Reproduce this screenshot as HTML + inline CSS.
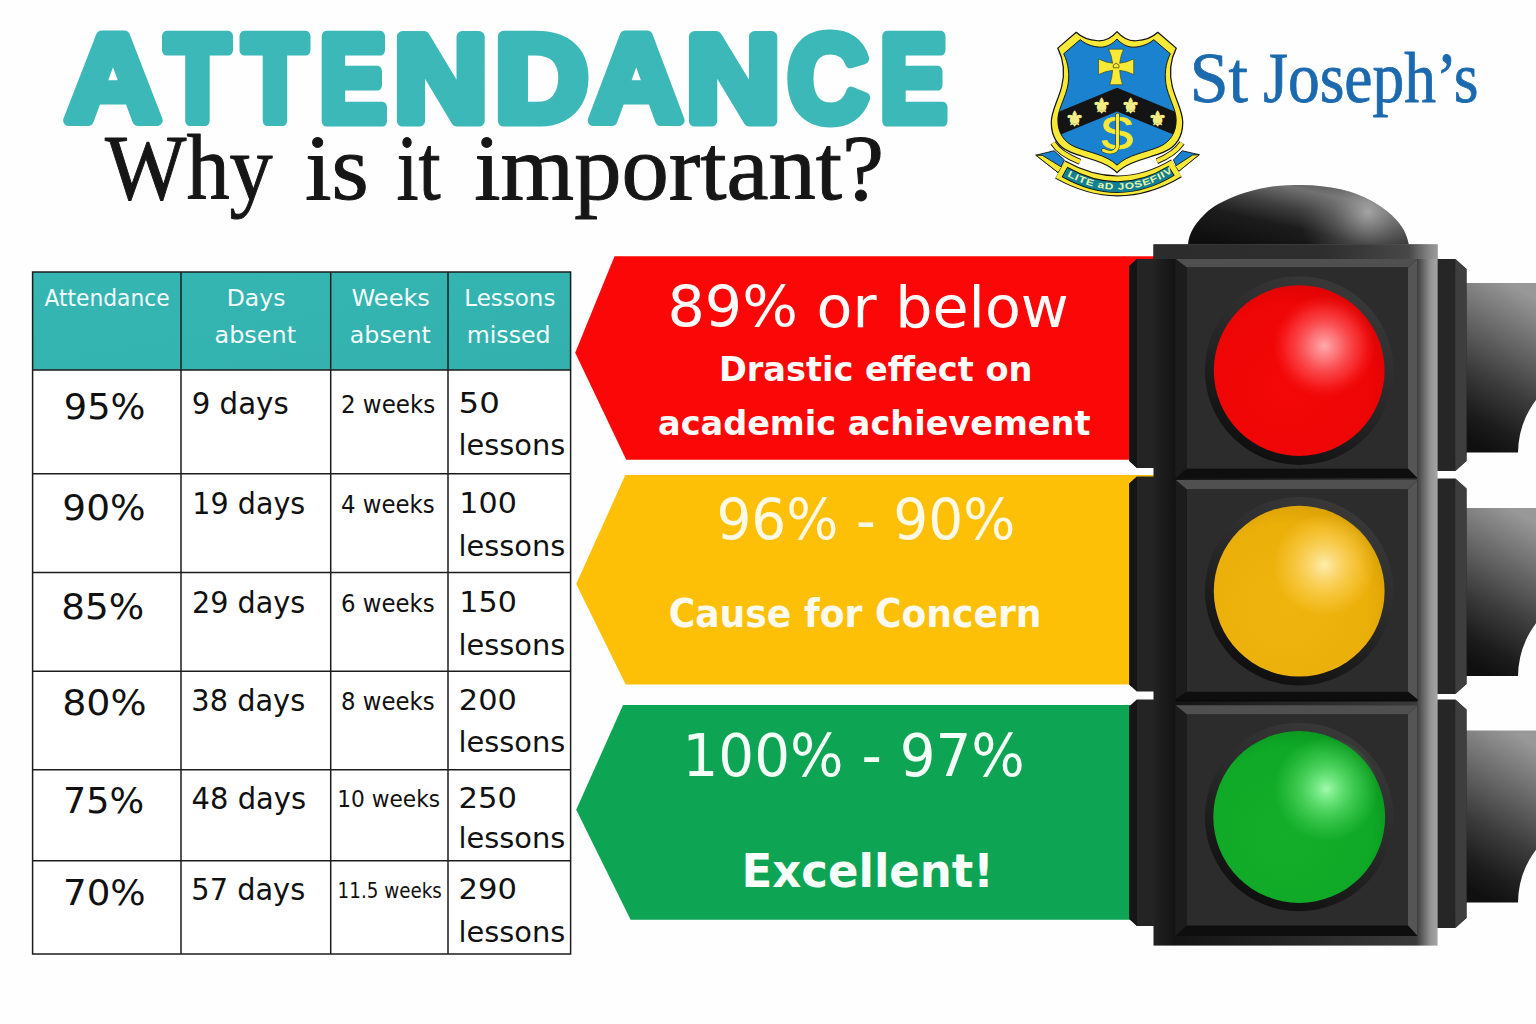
<!DOCTYPE html>
<html lang="en">
<head>
<meta charset="utf-8">
<title>Attendance - Why is it important?</title>
<style>
html,body{margin:0;padding:0;background:#fefefe;}
body{width:1536px;height:1024px;overflow:hidden;font-family:"Liberation Sans","DejaVu Sans",sans-serif;}
svg{display:block;}
text{white-space:pre;}
</style>
</head>
<body>
<svg width="1536" height="1024" viewBox="0 0 1536 1024">
<rect width="1536" height="1024" fill="#fefefe"/>
<defs>
  <radialGradient id="gRed" cx="0.42" cy="0.6" r="0.62">
    <stop offset="0" stop-color="#f40808"/>
    <stop offset="0.8" stop-color="#ee0505"/>
    <stop offset="1" stop-color="#df0303"/>
  </radialGradient>
  <radialGradient id="hRed" cx="0.5" cy="0.5" r="0.5">
    <stop offset="0" stop-color="#ffb4b6" stop-opacity="0.95"/>
    <stop offset="0.3" stop-color="#ff8a8e" stop-opacity="0.8"/>
    <stop offset="0.7" stop-color="#ff5256" stop-opacity="0.48"/>
    <stop offset="0.9" stop-color="#ff3a3e" stop-opacity="0.16"/>
    <stop offset="1" stop-color="#ff3a3e" stop-opacity="0"/>
  </radialGradient>
  <radialGradient id="gYel" cx="0.42" cy="0.6" r="0.62">
    <stop offset="0" stop-color="#efb50e"/>
    <stop offset="0.8" stop-color="#ebaf0a"/>
    <stop offset="1" stop-color="#dba205"/>
  </radialGradient>
  <radialGradient id="hYel" cx="0.5" cy="0.5" r="0.5">
    <stop offset="0" stop-color="#fff0b8" stop-opacity="0.95"/>
    <stop offset="0.3" stop-color="#ffe28a" stop-opacity="0.75"/>
    <stop offset="0.7" stop-color="#ffd45a" stop-opacity="0.42"/>
    <stop offset="0.9" stop-color="#ffd050" stop-opacity="0.16"/>
    <stop offset="1" stop-color="#ffd050" stop-opacity="0"/>
  </radialGradient>
  <radialGradient id="gGrn" cx="0.42" cy="0.6" r="0.62">
    <stop offset="0" stop-color="#14ae2b"/>
    <stop offset="0.8" stop-color="#10a927"/>
    <stop offset="1" stop-color="#0a9a1f"/>
  </radialGradient>
  <radialGradient id="hGrn" cx="0.5" cy="0.5" r="0.5">
    <stop offset="0" stop-color="#a8ffb4" stop-opacity="0.95"/>
    <stop offset="0.3" stop-color="#7cf08a" stop-opacity="0.75"/>
    <stop offset="0.7" stop-color="#52d962" stop-opacity="0.42"/>
    <stop offset="0.9" stop-color="#48d058" stop-opacity="0.16"/>
    <stop offset="1" stop-color="#48d058" stop-opacity="0"/>
  </radialGradient>
  <linearGradient id="gRing" x1="0.75" y1="0" x2="0.25" y2="1">
    <stop offset="0" stop-color="#3a3a3a"/>
    <stop offset="0.45" stop-color="#2a2a2a"/>
    <stop offset="1" stop-color="#0d0d0d"/>
  </linearGradient>
  <linearGradient id="gBody" x1="0" y1="0" x2="1" y2="0">
    <stop offset="0" stop-color="#232323"/>
    <stop offset="0.035" stop-color="#1b1b1b"/>
    <stop offset="0.075" stop-color="#141414"/>
    <stop offset="0.925" stop-color="#3a3a3a"/>
    <stop offset="0.94" stop-color="#545454"/>
    <stop offset="0.975" stop-color="#929292"/>
    <stop offset="1" stop-color="#a6a6a6"/>
  </linearGradient>
  <linearGradient id="gTop" x1="0" y1="0" x2="1" y2="0">
    <stop offset="0" stop-color="#2c2c2c"/>
    <stop offset="0.6" stop-color="#2e2e2e"/>
    <stop offset="0.9" stop-color="#484848"/>
    <stop offset="0.975" stop-color="#8a8a8a"/>
    <stop offset="1" stop-color="#9a9a9a"/>
  </linearGradient>
  <linearGradient id="gDome" x1="0.1" y1="0.95" x2="0.85" y2="0.05">
    <stop offset="0" stop-color="#0e0e0e"/>
    <stop offset="0.36" stop-color="#1c1c1c"/>
    <stop offset="0.58" stop-color="#404040"/>
    <stop offset="0.8" stop-color="#727272"/>
    <stop offset="1" stop-color="#4a4a4a"/>
  </linearGradient>
  <radialGradient id="hDome" gradientUnits="userSpaceOnUse" cx="1368" cy="212" r="70">
    <stop offset="0" stop-color="#acacac" stop-opacity="0.9"/>
    <stop offset="0.5" stop-color="#808080" stop-opacity="0.4"/>
    <stop offset="1" stop-color="#606060" stop-opacity="0"/>
  </radialGradient>
  <linearGradient id="gVisor" x1="0.62" y1="0" x2="0.38" y2="1">
    <stop offset="0" stop-color="#989898"/>
    <stop offset="0.3" stop-color="#6a6a6a"/>
    <stop offset="0.6" stop-color="#3c3c3c"/>
    <stop offset="0.85" stop-color="#1c1c1c"/>
    <stop offset="1" stop-color="#101010"/>
  </linearGradient>
  <linearGradient id="gHead" x1="0" y1="0" x2="1" y2="1">
    <stop offset="0" stop-color="#36b6b3"/>
    <stop offset="1" stop-color="#32b1ad"/>
  </linearGradient>
</defs>

<g id="table">
  <rect x="32.6" y="272" width="538" height="682" fill="#ffffff"/>
  <rect x="32.6" y="272" width="538" height="98" fill="url(#gHead)"/>
  <g stroke="#1c1c1c" stroke-width="1.5" fill="none" shape-rendering="geometricPrecision">
    <rect x="32.6" y="272" width="538" height="682"/>
    <path d="M181 272V954M330.7 272V954M448 272V954"/>
    <path d="M32.6 370H570.6M32.6 473.8H570.6M32.6 572.4H570.6M32.6 671.2H570.6M32.6 769.8H570.6M32.6 860.7H570.6"/>
  </g>
</g>

<g id="arrows">
  <polygon points="614.5,256.3 1154,256.3 1154,459.8 626.2,459.8 575.2,352.8" fill="#fb0707"/>
  <polygon points="625.3,475.1 1154,475.1 1154,684.4 625.7,684.4 576.2,584.1" fill="#fec006"/>
  <polygon points="623,705.1 1154,705.1 1154,919.8 630.6,919.8 576.2,809.8" fill="#0da553"/>
</g>

<g id="light">
  <g><path d="M1466,283.1 H1537 V398.6 A90,90 0 0 0 1518,452.6 H1466 Z" fill="url(#gVisor)"/><path d="M1466,508 H1537 V622.0 A90,90 0 0 0 1518,676 H1466 Z" fill="url(#gVisor)"/><path d="M1466,730.5 H1537 V848.4 A90,90 0 0 0 1518,902.4 H1466 Z" fill="url(#gVisor)"/></g>
  <path d="M1188,244.6 C1189,233 1195,224 1203,216 C1210,208 1219,203 1229,198.7 C1243,192.5 1257,189 1272,186.6 C1282,185.2 1292,184.9 1302,184.9 C1315,184.9 1328,186.5 1340.6,189.2 C1353,192 1365,197 1375,203 C1384,208 1391,214 1396.4,220 C1403,227 1407,235 1408.8,244.6 Z" fill="url(#gDome)"/>
  <path d="M1188,244.6 C1189,233 1195,224 1203,216 C1210,208 1219,203 1229,198.7 C1243,192.5 1257,189 1272,186.6 C1282,185.2 1292,184.9 1302,184.9 C1315,184.9 1328,186.5 1340.6,189.2 C1353,192 1365,197 1375,203 C1384,208 1391,214 1396.4,220 C1403,227 1407,235 1408.8,244.6 Z" fill="url(#hDome)"/>
  <g><polygon points="1137,259 1155,259 1155,468 1137,468 1129.3,461 1129.3,266" fill="#242424"/><polygon points="1137,259 1137,468 1129.3,461 1129.3,266" fill="#151515"/><polygon points="1137,476.5 1155,476.5 1155,691.5 1137,691.5 1129.3,684.5 1129.3,483.5" fill="#242424"/><polygon points="1137,476.5 1137,691.5 1129.3,684.5 1129.3,483.5" fill="#151515"/><polygon points="1137,699.6 1155,699.6 1155,926 1137,926 1129.3,919 1129.3,706.6" fill="#242424"/><polygon points="1137,699.6 1137,926 1129.3,919 1129.3,706.6" fill="#151515"/></g>
  <g><polygon points="1436,259 1455.3,259 1466.5,269 1466.5,461 1455.3,471 1436,471" fill="#262626"/><polygon points="1455.3,259 1466.5,269 1466.5,461 1455.3,471" fill="#3e3e3e"/><polygon points="1436,478.5 1455.3,478.5 1466.5,488.5 1466.5,684 1455.3,694 1436,694" fill="#262626"/><polygon points="1455.3,478.5 1466.5,488.5 1466.5,684 1455.3,694" fill="#3e3e3e"/><polygon points="1436,699.6 1455.3,699.6 1466.5,709.6 1466.5,918 1455.3,928 1436,928" fill="#262626"/><polygon points="1455.3,699.6 1466.5,709.6 1466.5,918 1455.3,928" fill="#3e3e3e"/></g>
  <rect x="1153.5" y="244.4" width="284.1" height="701.2" fill="url(#gBody)"/>
  <rect x="1153.5" y="244.4" width="284.1" height="14.6" fill="url(#gTop)"/>
  <g>
    <rect x="1175.5" y="259" width="242" height="219.2" fill="#1b1b1b"/>
    <polygon points="1175.5,259 1417.5,259 1408,267.4 1186.8,267.4" fill="#505050"/>
    <polygon points="1175.5,259 1186.8,267.4 1186.8,468.6 1175.5,478.2" fill="#1c1c1c"/>
    <polygon points="1417.5,259 1417.5,478.2 1408,468.6 1408,267.4" fill="#555555"/>
    <polygon points="1175.5,478.2 1186.8,468.6 1408,468.6 1417.5,478.2" fill="#0e0e0e"/>
    <rect x="1186.8" y="267.4" width="221.2" height="201.20000000000005" fill="#2c2c2c"/>
    <rect x="1175.5" y="480" width="242" height="221.5" fill="#0a0a0a"/>
    <polygon points="1175.5,480 1417.5,480 1408,489.6 1186.8,489.6" fill="#505050"/>
    <polygon points="1175.5,480 1186.8,489.6 1186.8,691.8 1175.5,699.6" fill="#1c1c1c"/>
    <polygon points="1417.5,480 1417.5,699.6 1408,691.8 1408,489.6" fill="#555555"/>
    <polygon points="1175.5,699.6 1186.8,691.8 1408,691.8 1417.5,699.6" fill="#0e0e0e"/>
    <rect x="1186.8" y="489.6" width="221.2" height="202.19999999999993" fill="#2c2c2c"/>
    <rect x="1175.5" y="705.2" width="242" height="230.79999999999995" fill="#1b1b1b"/>
    <polygon points="1175.5,705.2 1417.5,705.2 1408,714.6 1186.8,714.6" fill="#505050"/>
    <polygon points="1175.5,705.2 1186.8,714.6 1186.8,925.4 1175.5,936" fill="#1c1c1c"/>
    <polygon points="1417.5,705.2 1417.5,936 1408,925.4 1408,714.6" fill="#555555"/>
    <polygon points="1175.5,936 1186.8,925.4 1408,925.4 1417.5,936" fill="#0e0e0e"/>
    <rect x="1186.8" y="714.6" width="221.2" height="210.79999999999995" fill="#2c2c2c"/>
  </g>
  <circle cx="1299.2" cy="370.6" r="94.3" fill="url(#gRing)"/>
  <circle cx="1299.2" cy="370.6" r="85.4" fill="url(#gRed)"/>
  <circle cx="1324.3" cy="346" r="51" fill="url(#hRed)"/>
  <circle cx="1299.2" cy="591.2" r="94.3" fill="url(#gRing)"/>
  <circle cx="1299.2" cy="591.2" r="85.4" fill="url(#gYel)"/>
  <circle cx="1324.3" cy="565" r="51" fill="url(#hYel)"/>
  <circle cx="1299.2" cy="817" r="94.3" fill="url(#gRing)"/>
  <circle cx="1299.2" cy="817" r="85.9" fill="url(#gGrn)"/>
  <circle cx="1326.4" cy="789" r="52" fill="url(#hGrn)"/>
</g>

<g id="crest" transform="translate(1030,20) scale(0.17578)">
  <defs>
    <clipPath id="clipShield"><path d="M495.0,66.0 C520.0,95.0 560.0,120.0 603.0,118.0 C650.0,116.0 700.0,96.0 727.0,70.0 L832.0,160.0 C802.0,220.0 790.0,300.0 810.0,380.0 C835.0,470.0 869.0,520.0 869.0,582.0 C869.0,660.0 832.0,722.0 760.0,752.0 C680.0,786.0 560.0,802.0 495.0,868.0 C430.0,802.0 310.0,786.0 230.0,752.0 C158.0,722.0 121.0,660.0 121.0,582.0 C121.0,520.0 155.0,470.0 180.0,380.0 C200.0,300.0 188.0,220.0 158.0,160.0 L263.0,70.0 C290.0,96.0 340.0,116.0 387.0,118.0 C430.0,120.0 470.0,95.0 495.0,66.0 Z" transform="translate(495.0,466) scale(0.9,0.895) translate(-495.0,-466)"/></clipPath>
    <path id="bannerArc" d="M172,851 Q507,1040 833,844"/>
    <path id="bannerText" d="M205,884 Q507,1052 800,874"/>
  </defs>
  <!-- ribbon tails -->
  <g stroke="#111" stroke-width="5" stroke-linejoin="round">
    <polygon points="33,769 137,744 196,796 160,868" fill="#1a82cf"/>
    <polygon points="33,769 160,868 181,838 70,770" fill="#f7e936"/>
    <polygon points="963,766 866,744 816,796 847,860" fill="#1a82cf"/>
    <polygon points="963,766 847,860 826,832 925,768" fill="#f7e936"/>
  </g>
  <!-- folds -->
  <g fill="none" stroke-linecap="butt">
    <path d="M131,699 Q170,762 284,806" stroke="#111" stroke-width="34"/>
    <path d="M131,699 Q170,762 284,806" stroke="#f7e936" stroke-width="24"/>
    <path d="M865,699 Q822,762 722,803" stroke="#111" stroke-width="34"/>
    <path d="M865,699 Q822,762 722,803" stroke="#f7e936" stroke-width="24"/>
  </g>
  <!-- banner band -->
  <use href="#bannerArc" fill="none" stroke="#111" stroke-width="118"/>
  <use href="#bannerArc" fill="none" stroke="#f7e936" stroke-width="106"/>
  <path d="M196,864 Q507,1040 806,857" fill="none" stroke="#111" stroke-width="66"/>
  <path d="M200,866 Q507,1040 802,859" fill="none" stroke="#117f94" stroke-width="56"/>
  <text font-family='"Liberation Sans", "DejaVu Sans", sans-serif' font-weight="700" font-size="52" fill="#e9f7a8" letter-spacing="3"><textPath href="#bannerText" startOffset="1%" textLength="640" lengthAdjust="spacingAndGlyphs">LITE aD JOSEFIIV</textPath></text>
  <!-- shield -->
  <path d="M495.0,66.0 C520.0,95.0 560.0,120.0 603.0,118.0 C650.0,116.0 700.0,96.0 727.0,70.0 L832.0,160.0 C802.0,220.0 790.0,300.0 810.0,380.0 C835.0,470.0 869.0,520.0 869.0,582.0 C869.0,660.0 832.0,722.0 760.0,752.0 C680.0,786.0 560.0,802.0 495.0,868.0 C430.0,802.0 310.0,786.0 230.0,752.0 C158.0,722.0 121.0,660.0 121.0,582.0 C121.0,520.0 155.0,470.0 180.0,380.0 C200.0,300.0 188.0,220.0 158.0,160.0 L263.0,70.0 C290.0,96.0 340.0,116.0 387.0,118.0 C430.0,120.0 470.0,95.0 495.0,66.0 Z" fill="#f7e936" stroke="#111" stroke-width="7" stroke-linejoin="round"/>
  <path d="M495.0,66.0 C520.0,95.0 560.0,120.0 603.0,118.0 C650.0,116.0 700.0,96.0 727.0,70.0 L832.0,160.0 C802.0,220.0 790.0,300.0 810.0,380.0 C835.0,470.0 869.0,520.0 869.0,582.0 C869.0,660.0 832.0,722.0 760.0,752.0 C680.0,786.0 560.0,802.0 495.0,868.0 C430.0,802.0 310.0,786.0 230.0,752.0 C158.0,722.0 121.0,660.0 121.0,582.0 C121.0,520.0 155.0,470.0 180.0,380.0 C200.0,300.0 188.0,220.0 158.0,160.0 L263.0,70.0 C290.0,96.0 340.0,116.0 387.0,118.0 C430.0,120.0 470.0,95.0 495.0,66.0 Z" transform="translate(495.0,466) scale(0.9,0.895) translate(-495.0,-466)" fill="#1a82cf" stroke="#111" stroke-width="6" stroke-linejoin="round"/>
  <g clip-path="url(#clipShield)">
    <polygon points="0,589 495.0,385 990,589 990,722 495.0,520 0,722" fill="#141414"/>
  </g>
  <!-- cross -->
  <path d="M470,246 Q466,206.0 448,166 L532,166 Q514,206.0 510,246 Q550.0,242 590,222 L590,310 Q550.0,290 510,286 Q512,327.2 526,368 L454,368 Q468,327.2 470,286 Q430.0,290 390,310 L390,222 Q430.0,242 470,246 Z" fill="#f7e936" stroke="#2a2a10" stroke-width="3"/>
  <path d="M474,272 L474,256 L490,246 L506,256 L506,272 Z" fill="#f7e936" stroke="#3a3a10" stroke-width="4"/>
  <!-- fleurs-de-lis -->
  <g font-family='"DejaVu Sans", sans-serif' font-size="118" fill="#f4ee86" text-anchor="middle" stroke="#f4ee86" stroke-width="5" stroke-linejoin="round">
    <text x="253" y="602">⚜</text>
    <text x="407" y="530">⚜</text>
    <text x="572" y="530">⚜</text>
    <text x="725" y="602">⚜</text>
  </g>
  <!-- SJ monogram -->
  <text x="497" y="733" text-anchor="middle" font-family='"Liberation Sans", "DejaVu Sans", sans-serif' font-size="258" fill="#f7e936" stroke="#f7e936" stroke-width="4" stroke-linejoin="round" transform="translate(497,0) scale(1.16,1) translate(-497,0)">S</text>
  <path d="M498,540 V712 C498,748 462,764 418,742" fill="none" stroke="#2a2a10" stroke-width="24" stroke-linecap="round"/>
  <path d="M498,540 V712 C498,748 462,764 418,742" fill="none" stroke="#f7e936" stroke-width="18" stroke-linecap="round"/>
</g>

<g id="texts">
<text y="121.00" font-family='"Liberation Sans", "DejaVu Sans", sans-serif' font-weight="700" font-size="123.19" fill="#3bb8b7" stroke="#3bb8b7" stroke-width="11.0" stroke-linejoin="round" paint-order="stroke"><tspan x="65.88" textLength="94.52" lengthAdjust="spacingAndGlyphs">A</tspan><tspan x="165.45" textLength="63.96" lengthAdjust="spacingAndGlyphs">T</tspan><tspan x="242.95" textLength="63.96" lengthAdjust="spacingAndGlyphs">T</tspan><tspan x="319.58" textLength="66.94" lengthAdjust="spacingAndGlyphs">E</tspan><tspan x="394.07" textLength="93.64" lengthAdjust="spacingAndGlyphs">N</tspan><tspan x="495.11" textLength="93.18" lengthAdjust="spacingAndGlyphs">D</tspan><tspan x="590.35" textLength="91.97" lengthAdjust="spacingAndGlyphs">A</tspan><tspan x="686.02" textLength="94.25" lengthAdjust="spacingAndGlyphs">N</tspan><tspan x="787.64" textLength="80.49" lengthAdjust="spacingAndGlyphs">C</tspan><tspan x="879.98" textLength="66.94" lengthAdjust="spacingAndGlyphs">E</tspan></text>
<text y="198.80" font-family='"Liberation Serif", "DejaVu Serif", serif' font-weight="400" font-size="93.53" fill="#161616" stroke="#161616" stroke-width="1.0" stroke-linejoin="round"><tspan x="105.10" textLength="167.60" lengthAdjust="spacingAndGlyphs">Why</tspan> <tspan x="304.99" textLength="63.78" lengthAdjust="spacingAndGlyphs">is</tspan> <tspan x="396.41" textLength="44.22" lengthAdjust="spacingAndGlyphs">it</tspan> <tspan x="474.31" textLength="409.77" lengthAdjust="spacingAndGlyphs">important?</tspan></text>
<text y="101.90" font-family='"Liberation Serif", "DejaVu Serif", serif' font-weight="400" font-size="71.52" fill="#1b69ae" stroke="#1b69ae" stroke-width="0.8"><tspan x="1189.66" textLength="58.24" lengthAdjust="spacingAndGlyphs">St</tspan> <tspan x="1263.23" textLength="215.14" lengthAdjust="spacingAndGlyphs">Joseph’s</tspan></text>
<text transform="translate(44.39,305.60) scale(0.9699,1)" font-family='"DejaVu Sans", "Liberation Sans", sans-serif' font-weight="400" font-size="22.47" fill="#f3fbfb" >Attendance</text>
<text transform="translate(226.76,305.60) scale(1.0473,1)" font-family='"DejaVu Sans", "Liberation Sans", sans-serif' font-weight="400" font-size="22.47" fill="#f3fbfb" >Days</text>
<text transform="translate(214.57,342.70) scale(1.0635,1)" font-family='"DejaVu Sans", "Liberation Sans", sans-serif' font-weight="400" font-size="22.47" fill="#f3fbfb" >absent</text>
<text transform="translate(351.48,305.60) scale(1.0706,1)" font-family='"DejaVu Sans", "Liberation Sans", sans-serif' font-weight="400" font-size="22.47" fill="#f3fbfb" >Weeks</text>
<text transform="translate(349.77,342.70) scale(1.0581,1)" font-family='"DejaVu Sans", "Liberation Sans", sans-serif' font-weight="400" font-size="22.47" fill="#f3fbfb" >absent</text>
<text transform="translate(464.32,305.60) scale(1.0236,1)" font-family='"DejaVu Sans", "Liberation Sans", sans-serif' font-weight="400" font-size="22.47" fill="#f3fbfb" >Lessons</text>
<text transform="translate(466.67,342.70) scale(1.0545,1)" font-family='"DejaVu Sans", "Liberation Sans", sans-serif' font-weight="400" font-size="22.47" fill="#f3fbfb" >missed</text>
<text transform="translate(63.79,418.70) scale(1.0589,1)" font-family='"DejaVu Sans", "Liberation Sans", sans-serif' font-weight="400" font-size="34.73" fill="#111111" >95%</text>
<text transform="translate(62.35,519.70) scale(1.0780,1)" font-family='"DejaVu Sans", "Liberation Sans", sans-serif' font-weight="400" font-size="34.73" fill="#111111" >90%</text>
<text transform="translate(61.27,618.70) scale(1.0751,1)" font-family='"DejaVu Sans", "Liberation Sans", sans-serif' font-weight="400" font-size="34.73" fill="#111111" >85%</text>
<text transform="translate(62.13,715.10) scale(1.0943,1)" font-family='"DejaVu Sans", "Liberation Sans", sans-serif' font-weight="400" font-size="34.73" fill="#111111" >80%</text>
<text transform="translate(63.08,813.20) scale(1.0511,1)" font-family='"DejaVu Sans", "Liberation Sans", sans-serif' font-weight="400" font-size="34.73" fill="#111111" >75%</text>
<text transform="translate(63.02,904.70) scale(1.0718,1)" font-family='"DejaVu Sans", "Liberation Sans", sans-serif' font-weight="400" font-size="34.73" fill="#111111" >70%</text>
<text transform="translate(191.64,413.70) scale(0.9934,1)" font-family='"DejaVu Sans", "Liberation Sans", sans-serif' font-weight="400" font-size="29.46" fill="#111111" >9 days</text>
<text transform="translate(192.30,514.10) scale(0.9702,1)" font-family='"DejaVu Sans", "Liberation Sans", sans-serif' font-weight="400" font-size="29.46" fill="#111111" >19 days</text>
<text transform="translate(191.89,613.10) scale(0.9737,1)" font-family='"DejaVu Sans", "Liberation Sans", sans-serif' font-weight="400" font-size="29.46" fill="#111111" >29 days</text>
<text transform="translate(191.34,710.70) scale(0.9785,1)" font-family='"DejaVu Sans", "Liberation Sans", sans-serif' font-weight="400" font-size="29.46" fill="#111111" >38 days</text>
<text transform="translate(191.60,808.90) scale(0.9841,1)" font-family='"DejaVu Sans", "Liberation Sans", sans-serif' font-weight="400" font-size="29.46" fill="#111111" >48 days</text>
<text transform="translate(191.34,900.00) scale(0.9785,1)" font-family='"DejaVu Sans", "Liberation Sans", sans-serif' font-weight="400" font-size="29.46" fill="#111111" >57 days</text>
<text transform="translate(340.89,412.80) scale(0.9302,1)" font-family='"DejaVu Sans", "Liberation Sans", sans-serif' font-weight="400" font-size="24.73" fill="#111111" >2 weeks</text>
<text transform="translate(340.97,513.30) scale(0.9244,1)" font-family='"DejaVu Sans", "Liberation Sans", sans-serif' font-weight="400" font-size="24.73" fill="#111111" >4 weeks</text>
<text transform="translate(341.01,612.00) scale(0.9239,1)" font-family='"DejaVu Sans", "Liberation Sans", sans-serif' font-weight="400" font-size="24.73" fill="#111111" >6 weeks</text>
<text transform="translate(341.01,709.60) scale(0.9239,1)" font-family='"DejaVu Sans", "Liberation Sans", sans-serif' font-weight="400" font-size="24.73" fill="#111111" >8 weeks</text>
<text transform="translate(337.22,806.90) scale(0.9128,1)" font-family='"DejaVu Sans", "Liberation Sans", sans-serif' font-weight="400" font-size="23.78" fill="#111111" >10 weeks</text>
<text transform="translate(337.58,898.30) scale(0.8323,1)" font-family='"DejaVu Sans", "Liberation Sans", sans-serif' font-weight="400" font-size="22.03" fill="#111111" >11.5 weeks</text>
<text transform="translate(458.57,412.80) scale(1.1324,1)" font-family='"DejaVu Sans", "Liberation Sans", sans-serif' font-weight="400" font-size="28.65" fill="#111111" >50</text>
<text transform="translate(458.40,454.80) scale(1.0083,1)" font-family='"DejaVu Sans", "Liberation Sans", sans-serif' font-weight="400" font-size="28.65" fill="#111111" >lessons</text>
<text transform="translate(459.34,513.30) scale(1.0507,1)" font-family='"DejaVu Sans", "Liberation Sans", sans-serif' font-weight="400" font-size="28.65" fill="#111111" >100</text>
<text transform="translate(458.40,556.40) scale(1.0083,1)" font-family='"DejaVu Sans", "Liberation Sans", sans-serif' font-weight="400" font-size="28.65" fill="#111111" >lessons</text>
<text transform="translate(459.34,612.00) scale(1.0507,1)" font-family='"DejaVu Sans", "Liberation Sans", sans-serif' font-weight="400" font-size="28.65" fill="#111111" >150</text>
<text transform="translate(458.40,654.90) scale(1.0083,1)" font-family='"DejaVu Sans", "Liberation Sans", sans-serif' font-weight="400" font-size="28.65" fill="#111111" >lessons</text>
<text transform="translate(458.87,709.60) scale(1.0615,1)" font-family='"DejaVu Sans", "Liberation Sans", sans-serif' font-weight="400" font-size="28.65" fill="#111111" >200</text>
<text transform="translate(458.40,752.10) scale(1.0083,1)" font-family='"DejaVu Sans", "Liberation Sans", sans-serif' font-weight="400" font-size="28.65" fill="#111111" >lessons</text>
<text transform="translate(458.46,807.80) scale(1.0693,1)" font-family='"DejaVu Sans", "Liberation Sans", sans-serif' font-weight="400" font-size="28.65" fill="#111111" >250</text>
<text transform="translate(458.40,848.30) scale(1.0083,1)" font-family='"DejaVu Sans", "Liberation Sans", sans-serif' font-weight="400" font-size="28.65" fill="#111111" >lessons</text>
<text transform="translate(458.46,899.00) scale(1.0693,1)" font-family='"DejaVu Sans", "Liberation Sans", sans-serif' font-weight="400" font-size="28.65" fill="#111111" >290</text>
<text transform="translate(458.40,941.60) scale(1.0083,1)" font-family='"DejaVu Sans", "Liberation Sans", sans-serif' font-weight="400" font-size="28.65" fill="#111111" >lessons</text>
<text transform="translate(667.49,327.20) scale(1.0340,1)" font-family='"DejaVu Sans", "Liberation Sans", sans-serif' font-weight="400" font-size="56.76" fill="#fffdfb" >89% or below</text>
<text transform="translate(718.88,381.30) scale(0.9808,1)" font-family='"DejaVu Sans", "Liberation Sans", sans-serif' font-weight="700" font-size="34.25" fill="#fffdfb" >Drastic effect on</text>
<text transform="translate(658.06,435.00) scale(0.9789,1)" font-family='"DejaVu Sans", "Liberation Sans", sans-serif' font-weight="700" font-size="34.25" fill="#fffdfb" >academic achievement</text>
<text transform="translate(716.40,540.00) scale(0.9685,1)" font-family='"DejaVu Sans", "Liberation Sans", sans-serif' font-weight="400" font-size="56.76" fill="#fff9e6" >96% - 90%</text>
<text transform="translate(668.67,626.90) scale(0.9233,1)" font-family='"DejaVu Sans", "Liberation Sans", sans-serif' font-weight="700" font-size="39.18" fill="#fffaf0" >Cause for Concern</text>
<text transform="translate(682.48,776.30) scale(0.9698,1)" font-family='"DejaVu Sans", "Liberation Sans", sans-serif' font-weight="400" font-size="58.11" fill="#f4fff8" >100% - 97%</text>
<text transform="translate(741.55,886.60) scale(0.9805,1)" font-family='"DejaVu Sans", "Liberation Sans", sans-serif' font-weight="700" font-size="45.89" fill="#f8fffa" >Excellent!</text>
</g>
</svg>
</body>
</html>
